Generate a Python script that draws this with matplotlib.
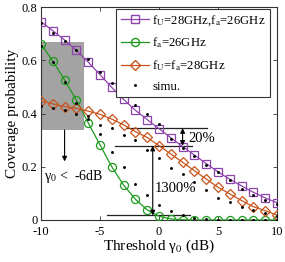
import matplotlib
matplotlib.use("Agg")
import matplotlib.pyplot as plt
from matplotlib.patches import Rectangle
from matplotlib.lines import Line2D

plt.rcParams['font.family'] = ['Liberation Serif', 'DejaVu Serif']
plt.rcParams['mathtext.fontset'] = 'stix'
plt.rcParams['axes.unicode_minus'] = False

# ---- data ----
thresholds = [-10, -9, -8, -7, -6, -5, -4, -3, -2, -1, 0, 1, 2, 3, 4, 5, 6, 7, 8, 9, 10]
cov_fu28_fa26 = [0.745, 0.711, 0.676, 0.637, 0.593, 0.546, 0.498, 0.453, 0.412, 0.377, 0.343,
                 0.309, 0.276, 0.244, 0.212, 0.181, 0.153, 0.128, 0.104, 0.083, 0.065]
cov_fa26 = [0.661, 0.597, 0.526, 0.450, 0.365, 0.282, 0.200, 0.131, 0.078, 0.038, 0.014,
            0.004, 0.001, 0.0, 0.0, 0.0, 0.0, 0.0, 0.0, 0.0, 0.0]
cov_fu28_fa28 = [0.448, 0.436, 0.426, 0.419, 0.409, 0.397, 0.379, 0.357, 0.332, 0.310, 0.279,
                 0.248, 0.217, 0.185, 0.154, 0.123, 0.098, 0.073, 0.050, 0.035, 0.018]
sim_fu28_fa26 = [0.739, 0.701, 0.673, 0.640, 0.603, 0.555, 0.513, 0.478, 0.432, 0.398, 0.360,
                 0.303, 0.270, 0.240, 0.207, 0.180, 0.150, 0.115, 0.094, 0.075, 0.060]
sim_fu28_fa28 = [0.430, 0.420, 0.412, 0.400, 0.392, 0.357, 0.344, 0.319, 0.300, 0.263, 0.232,
                 0.194, 0.172, 0.141, 0.113, 0.084, 0.067, 0.050, 0.038, 0.025, 0.015]
sim_fa26 = [0.655, 0.592, 0.520, 0.440, 0.380, 0.322, 0.257, 0.200, 0.134, 0.094, 0.056,
            0.034, 0.018, 0.008, 0.003, 0.001, 0.0, 0.0, 0.0, 0.0, 0.0]

labels = ["f$_{\\mathrm{U}}$=28GHz,f$_{\\mathrm{a}}$=26GHz",
          "f$_{\\mathrm{a}}$=26GHz",
          "f$_{\\mathrm{U}}$=f$_{\\mathrm{a}}$=28GHz",
          "simu."]
xticks = [-10, -5, 0, 5, 10]
yticks = [0, 0.2, 0.4, 0.6, 0.8]
ytick_labels = ["0", "0.2", "0.4", "0.6", "0.8"]

c_purple = '#8e44ad'
c_green = '#1e9a1e'
c_orange = '#c8541c'

fig = plt.figure(figsize=(2.85, 2.62), dpi=100)
ax = fig.add_axes([41/285, 42/262, 236/285, 213/262])

# gray highlighted region
ax.add_patch(Rectangle((-10, 0.338), 3.64, 0.329, facecolor='#a3a3a3', edgecolor='none', zorder=1))

ms = 5.8
ax.plot(thresholds, cov_fu28_fa26, '-s', color=c_purple, mfc='none', ms=ms, lw=0.9, mew=0.9, zorder=3)
ax.plot(thresholds, cov_fa26, '-o', color=c_green, mfc='none', ms=ms, lw=0.9, mew=0.9, zorder=3)
ax.plot(thresholds, cov_fu28_fa28, '-D', color=c_orange, mfc='none', ms=ms - 0.8, lw=0.9, mew=0.9, zorder=3)
for sim in (sim_fu28_fa26, sim_fu28_fa28, sim_fa26):
    ax.plot(thresholds, sim, 'o', color='k', ms=2.1, mew=0, zorder=4)

# annotations
lc = '#222222'
ax.plot([-2.7, 4.1], [0.345, 0.345], color=lc, lw=0.9, zorder=2)
ax.plot([-3.7, 2.8], [0.279, 0.279], color=lc, lw=0.9, zorder=2)
ax.plot([-4.4, 2.6], [0.017, 0.017], color=lc, lw=0.9, zorder=2)
ap = dict(arrowstyle='<|-|>', color='k', lw=0.8, mutation_scale=7, shrinkA=0, shrinkB=0)
ax.annotate('', xy=(2.0, 0.345), xytext=(2.0, 0.279), arrowprops=ap, zorder=5)
ax.annotate('', xy=(-0.53, 0.279), xytext=(-0.53, 0.017), arrowprops=ap, zorder=5)
ax.annotate('', xy=(-8.0, 0.22), xytext=(-8.0, 0.338),
            arrowprops=dict(arrowstyle='-|>', color='k', lw=0.8, mutation_scale=7, shrinkA=0, shrinkB=0), zorder=5)
ax.text(2.5, 0.305, "20%", fontsize=10.5, va='center', ha='left')
ax.text(-0.35, 0.118, "1300%", fontsize=10.5, va='center', ha='left')
ax.text(-9.75, 0.165, "γ$_0$ <  -6dB", fontsize=10, va='center', ha='left')

ax.set_xlim(-10, 10)
ax.set_ylim(0, 0.8)
ax.set_xticks(xticks)
ax.set_xticklabels([str(t) for t in xticks])
ax.set_yticks(yticks)
ax.set_yticklabels(ytick_labels)
ax.tick_params(direction='in', length=3, width=0.6, labelsize=9, top=True, right=True,
               color='#333333')
ax.tick_params(axis='x', pad=4.5)
ax.tick_params(axis='y', pad=2.5)
for s in ax.spines.values():
    s.set_color('#333333')
    s.set_linewidth(0.8)

ax.set_xlabel("Threshold γ$_0$ (dB)", fontsize=11, labelpad=-0.5)
ax.set_ylabel("Coverage probability", fontsize=11, labelpad=2)

handles = [
    Line2D([], [], color=c_purple, marker='s', mfc='none', ms=ms, lw=0.9),
    Line2D([], [], color=c_green, marker='o', mfc='none', ms=ms, lw=0.9),
    Line2D([], [], color=c_orange, marker='D', mfc='none', ms=ms - 0.8, lw=0.9),
    Line2D([], [], color='k', marker='o', ls='none', ms=2.1, mew=0),
]
leg = ax.legend(handles, labels, loc='upper left', bbox_to_anchor=(0.318, 0.991),
                fontsize=9.2, handlelength=2.2, handletextpad=0.3, borderpad=0.35,
                labelspacing=0.6, borderaxespad=0, fancybox=False, framealpha=1)
leg.get_frame().set_edgecolor('#333333')
leg.get_frame().set_linewidth(0.8)

fig.savefig('out.png', dpi=100)
